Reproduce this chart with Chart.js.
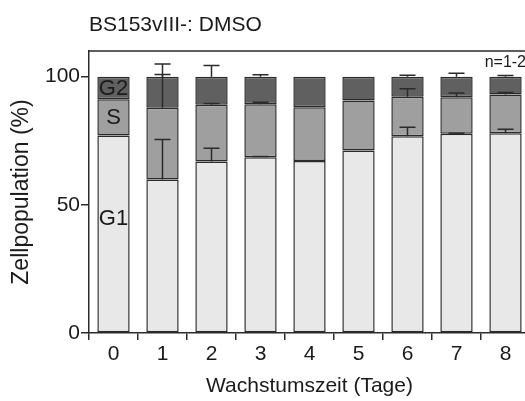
<!DOCTYPE html>
<html>
<head>
<meta charset="utf-8">
<script src="https://cdn.jsdelivr.net/npm/chart.js@4"></script>
<style>
  html, body { margin: 0; padding: 0; background: #fff; overflow: hidden; }
  #wrap { width: 530px; height: 401px; }
</style>
</head>
<body>
<div id="wrap"><canvas id="myChart"></canvas></div>
<script>
const ctx = document.getElementById('myChart').getContext('2d');

const tage = ['0', '1', '2', '3', '4', '5', '6', '7', '8'];

// phase fractions in % (stacked)
const g1 = [77.0, 59.9, 66.9, 68.6, 67.1, 71.2, 76.7, 77.7, 77.9];
const s  = [14.2, 28.0, 22.1, 20.6, 21.0, 19.5, 15.5, 14.3, 15.1];
const g2 = [8.8, 12.1, 11.0, 10.8, 11.9, 9.3, 7.8, 8.0, 7.0];

// upper error (SD) per phase
const g1Err = [0, 15.6, 5.2, 0.2, 0, 0, 3.6, 0.2, 1.6];
const sErr  = [0, 12.9, 0.5, 0.8, 0, 0, 3.1, 1.6, 0.8];
const g2Err = [0, 4.9, 4.3, 0.7, 0, 0, 0.5, 1.3, 0.4];

const yTicks = [0, 50, 100];

const FONT = '"Liberation Sans", Arial, sans-serif';
const INK = '#2b2b2b';

const errorBars = {
  id: 'errorBars',
  afterDatasetsDraw(chart) {
    const c = chart.ctx;
    const y = chart.scales.y;
    const errs = [g1Err, sErr, g2Err];
    c.save();
    c.strokeStyle = INK;
    c.lineWidth = 1.5;
    chart.data.datasets.forEach((ds, d) => {
      const meta = chart.getDatasetMeta(d);
      ds.data.forEach((v, i) => {
        const e = errs[d][i];
        if (!e) return;
        let cum = 0;
        for (let k = 0; k <= d; k++) cum += chart.data.datasets[k].data[i];
        const x = meta.data[i].x;
        const y0 = y.getPixelForValue(cum);
        const y1 = y.getPixelForValue(cum + e);
        c.beginPath();
        c.moveTo(x, y0);
        c.lineTo(x, y1);
        c.moveTo(x - 8, y1);
        c.lineTo(x + 8, y1);
        c.stroke();
      });
    });
    c.restore();
  }
};

const extras = {
  id: 'extras',
  afterDraw(chart) {
    const c = chart.ctx;
    const a = chart.chartArea;
    const y = chart.scales.y;
    const x0 = chart.getDatasetMeta(0).data[0].x;
    c.save();
    // frame top
    c.strokeStyle = INK;
    c.lineWidth = 1.5;
    c.beginPath();
    c.moveTo(a.left, a.top);
    c.lineTo(a.right, a.top);
    c.lineTo(a.right, a.bottom);
    c.stroke();
    c.fillStyle = '#1a1a1a';
    c.font = '21px ' + FONT;
    c.textAlign = 'left';
    c.textBaseline = 'alphabetic';
    c.fillText('BS153vIII-: DMSO', a.left, 31);
    c.font = '16px ' + FONT;
    c.textAlign = 'right';
    c.fillText('n=1-2', 526, 67);
    // phase labels in first bar
    c.font = '22px ' + FONT;
    c.textAlign = 'center';
    c.textBaseline = 'middle';
    c.fillText('G2', x0, y.getPixelForValue(g1[0] + s[0] + g2[0] / 2) + 1);
    c.fillText('S', x0, y.getPixelForValue(g1[0] + s[0] / 2) + 1);
    c.fillText('G1', x0, y.getPixelForValue(44.5));
    c.restore();
  }
};

const data = {
  labels: tage,
  datasets: [
    { label: 'G1', data: g1, backgroundColor: '#e8e8e8' },
    { label: 'S', data: s, backgroundColor: '#9f9f9f' },
    { label: 'G2', data: g2, backgroundColor: '#606060' }
  ].map(d => Object.assign(d, {
    borderColor: INK,
    borderWidth: 1.5,
    borderSkipped: false,
    categoryPercentage: 1,
    barPercentage: 0.66
  }))
};

const config = {
  type: 'bar',
  data: data,
  options: {
    responsive: true,
    maintainAspectRatio: false,
    animation: false,
    layout: { padding: { top: 51, left: 0, right: 0, bottom: 0 } },
    plugins: {
      legend: { display: false },
      tooltip: { enabled: false }
    },
    scales: {
      x: {
        stacked: true,
        offset: true,
        afterFit(scale) { scale.height = 68; },
        grid: { display: true, drawOnChartArea: false, drawTicks: true, tickLength: 7, color: INK, lineWidth: 1.5 },
        border: { display: true, color: INK, width: 1.5 },
        ticks: { color: '#1a1a1a', font: { family: FONT, size: 21 }, padding: 2 },
        title: {
          display: true,
          text: 'Wachstumszeit (Tage)',
          color: '#1a1a1a',
          font: { family: FONT, size: 21 },
          padding: { top: 0, bottom: 2 }
        }
      },
      y: {
        stacked: true,
        min: 0,
        max: 110,
        afterFit(scale) { scale.width = 89; },
        afterBuildTicks(scale) { scale.ticks = yTicks.map(v => ({ value: v })); },
        grid: { display: true, drawOnChartArea: false, drawTicks: true, tickLength: 8, color: INK, lineWidth: 1.5 },
        border: { display: true, color: INK, width: 1.5 },
        ticks: { color: '#1a1a1a', font: { family: FONT, size: 21 }, padding: 1 },
        title: {
          display: true,
          text: 'Zellpopulation (%)',
          color: '#1a1a1a',
          font: { family: FONT, size: 23 },
          padding: { top: 8, bottom: 0 }
        }
      }
    }
  },
  plugins: [errorBars, extras]
};

const myChart = new Chart(ctx, config);
</script>
</body>
</html>
